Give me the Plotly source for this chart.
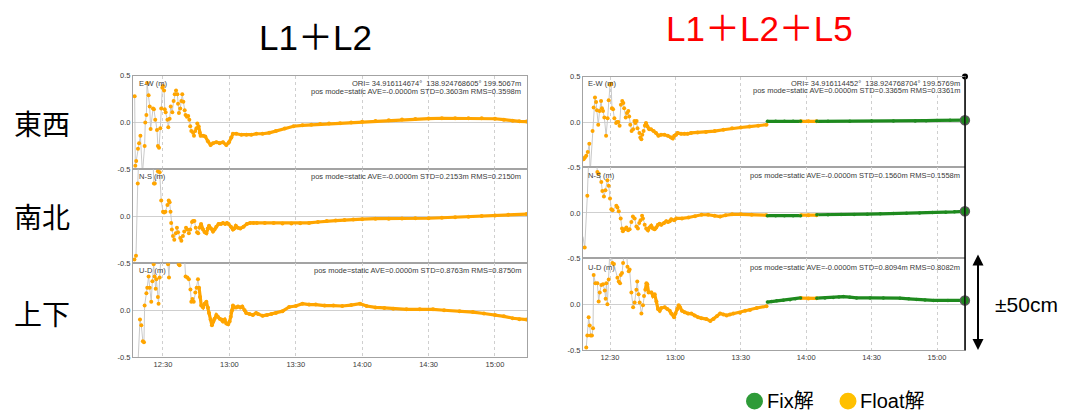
import numpy as np
import pandas as pd
import plotly.graph_objects as go

# ---------------- data (minutes after 12:00, metres) ----------------
LEFT_EW = [(17.2,.28),(17.5,-.46),(17.9,-.41),(18.7,-.28),(19.2,-.22),(19.8,-.14),(20.7,-.55),(21.7,-.25),(22.0,.00),(22.5,.08),(22.8,.42),(23.5,.29),(24.0,.17),(24.4,-.07),(25.5,.15),(25.9,.14),(26.5,.03),(27.3,-.08),(27.7,-.25),(28.2,-.27),(28.8,-.06),(29.2,.15),(29.7,.37),(30.0,.39),(30.5,.34),(30.8,.14),(31.2,.11),(32.0,.03),(32.4,-.05),(33.0,.04),(33.5,.17),(34.2,.11),(34.8,.23),(35.3,.30),(35.9,.34),(36.5,.30),(36.8,.20),(37.2,.10),(37.8,.15),(38.3,.23),(38.7,.30),(39.2,.22),(39.8,.13),(40.2,.08),(40.8,.06),(41.4,.07),(41.9,.03),(42.3,-.04),(42.8,-.09),(43.6,-.11),(44.0,-.14),(44.6,-.09),(45.1,-.06),(45.5,-.01),(46.1,-.04),(46.6,-.11),(47.0,-.14),(48.1,-.14),(49.1,-.15),(50.3,-.20),(51.5,-.24),(52.6,-.22),(54.1,-.21),(55.6,-.22),(57.1,-.21),(58.6,-.24),(59.8,-.21),(60.9,-.16),(61.6,-.12),(63.1,-.12),(65.4,-.13),(67.7,-.13),(69.9,-.13),(72.2,-.12),(75,-.12),(78,-.11),(81,-.09),(85,-.065),(89,-.04),(93,-.03),(97,-.025),(101,-.015),(105,-.01),(110,-.007),(115,.0),(120,.007),(126,.017),(132,.025),(138,.032),(144,.038),(150,.042),(156,.045),(162,.045),(168,.045),(174,.045),(180,.04),(184,.03),(188,.018),(191,.012),(194.3,.01)]
LEFT_NS = [(17.1,-.46),(17.8,-.42),(18.6,.35),(19.0,.62),(25.4,.62),(25.9,.35),(26.3,.35),(27.7,.48),(28.5,.47),(29.2,.17),(30.0,.05),(30.5,.04),(31.1,.05),(32.0,.12),(32.6,.17),(33.0,.15),(33.4,.05),(33.7,-.07),(34.0,-.14),(34.5,-.21),(35.1,-.25),(35.8,-.18),(36.3,-.12),(36.8,-.17),(37.8,-.23),(38.3,-.26),(39.0,-.21),(39.6,-.16),(40.4,-.12),(41.0,-.14),(41.7,-.18),(42.3,-.14),(43.1,-.06),(43.6,-.05),(44.2,-.05),(44.8,-.12),(45.4,-.17),(45.9,-.18),(46.5,-.12),(47.2,-.08),(48.1,-.14),(48.9,-.17),(49.6,-.18),(50.2,-.13),(50.8,-.10),(51.7,-.13),(52.6,-.16),(53.3,-.14),(54.1,-.11),(55.1,-.08),(56.2,-.08),(57.1,-.07),(58.1,-.08),(58.9,-.07),(59.6,-.08),(60.7,-.11),(61.6,-.14),(62.2,-.13),(62.9,-.10),(63.8,-.12),(64.9,-.13),(66.4,-.11),(67.9,-.08),(69.4,-.07),(70.9,-.07),(72.4,-.07),(76,-.07),(80,-.07),(84,-.075),(88,-.076),(92,-.073),(96,-.07),(100,-.06),(104,-.05),(108,-.045),(112,-.04),(116,-.033),(120,-.03),(126,-.025),(132,-.025),(138,-.022),(144,-.02),(150,-.02),(156,-.015),(162,-.01),(168,-.004),(174,.003),(180,.01),(186,.016),(194.3,.024)]
LEFT_UD = [(18.8,-.52),(19.6,-.10),(20.2,-.16),(20.9,-.33),(21.4,-.34),(21.7,.05),(22.5,.18),(22.9,.24),(23.5,.36),(24.0,.24),(24.7,.09),(25.2,.31),(25.8,.49),(26.2,.36),(26.7,.23),(27.0,.33),(27.7,.14),(28.0,.07),(28.5,.35),(29.2,.62),(31.8,.62),(32.3,.49),(32.7,.35),(33.2,.62),(36.6,.62),(37.1,.49),(37.5,.48),(38.2,.62),(39.6,.62),(40.2,.36),(41.0,.35),(41.7,.33),(42.4,.22),(42.8,.09),(43.3,.12),(43.9,.09),(44.6,.19),(45.2,.24),(45.8,.33),(46.3,.24),(46.7,.14),(47.3,.05),(48.1,.03),(48.8,.07),(49.6,.09),(50.3,.03),(50.8,-.03),(51.5,-.10),(52.1,-.16),(52.7,-.12),(53.3,-.09),(54.1,-.05),(54.8,-.07),(55.6,-.09),(56.4,-.10),(57.1,-.12),(57.9,-.10),(58.6,-.14),(59.4,-.15),(60.1,-.12),(60.6,-.07),(61.2,.00),(61.6,.05),(62.4,.03),(63.1,.03),(63.9,.04),(64.9,.03),(65.8,.04),(66.9,.00),(67.6,-.03),(69.1,-.04),(70.6,-.05),(72.1,-.03),(72.9,-.04),(75,-.06),(77,-.05),(79,-.04),(81,-.03),(84,-.01),(87,.035),(90,.045),(93,.07),(96,.06),(99,.06),(103,.05),(107,.05),(111,.045),(115,.055),(119,.07),(122,.045),(126,.03),(130,.025),(134,.017),(140,.01),(146,.01),(152,.01),(157,.0),(164,-.01),(170,-.02),(175,-.035),(180,-.05),(184,-.065),(188,-.085),(191,-.095),(194.3,-.10)]

RIGHT_EW = [(17.9,-.41),(18.5,-.39),(19.1,-.37),(19.8,-.33),(20.5,-.24),(20.9,-.56),(22.0,-.10),(22.5,.16),(23.1,.27),(23.6,.22),(24.0,.13),(24.6,-.03),(25.2,.12),(25.9,.23),(26.3,.15),(26.8,.12),(27.4,.05),(28.2,-.15),(28.9,.04),(29.4,.24),(30.0,.41),(30.5,.42),(30.9,.15),(31.4,.14),(32.0,.04),(32.8,-.01),(33.2,.00),(33.8,.00),(34.4,-.04),(35.0,.19),(35.6,.23),(36.1,.21),(36.5,.15),(37.2,.05),(37.8,.10),(38.4,.12),(38.8,.06),(39.3,-.03),(39.9,-.10),(40.6,-.08),(41.2,.01),(41.6,-.01),(42.2,.01),(42.6,-.07),(43.5,-.12),(43.9,-.17),(44.4,-.19),(44.8,-.14),(45.4,-.10),(46.0,-.04),(46.5,-.01),(47.2,-.05),(48.0,-.08),(48.8,-.08),(50.0,-.10),(51.1,-.12),(52.2,-.15),(53.4,-.14),(54.9,-.14),(56.5,-.15),(58.0,-.17),(58.8,-.18),(59.5,-.15),(60.3,-.14),(61.0,-.12),(62.6,-.13),(64.1,-.13),(65.6,-.13),(67.2,-.12),(70.2,-.115),(74.0,-.11),(78,-.10),(82,-.085),(86,-.07),(90,-.06),(94,-.05),(98,-.04),(101.8,-.03),(102.2,.008),(106,.008),(110,.008),(114,.008),(117.4,.008),(117.6,.008),(121,.008),(124.7,.008),(124.9,.008),(130,.008),(140,.009),(150,.01),(160,.01),(170,.012),(175,.015),(180,.017),(186,.018),(192.8,.02)]
RIGHT_NS = [(17.6,-.26),(18.4,-.38),(19.6,.19),(20.3,.65),(23.6,.65),(24.2,.45),(24.8,.43),(26.0,.34),(26.5,.24),(27.2,.18),(27.9,.25),(28.8,.36),(29.4,.30),(30.0,.16),(30.6,.04),(31.2,.03),(32.9,.08),(33.4,.06),(34.0,.02),(34.9,-.06),(35.5,-.17),(35.9,-.20),(36.7,-.18),(37.5,-.16),(38.3,-.19),(39.0,-.18),(39.8,-.10),(40.5,-.04),(41.3,-.06),(42.1,-.15),(42.8,-.17),(43.4,-.11),(44.0,-.08),(44.7,-.03),(45.1,-.06),(45.9,-.13),(46.6,-.17),(47.4,-.19),(48.1,-.16),(48.9,-.14),(49.7,-.17),(50.5,-.18),(51.2,-.16),(52.0,-.13),(52.8,-.12),(53.5,-.13),(54.8,-.11),(55.8,-.09),(56.6,-.10),(57.4,-.09),(58.1,-.07),(59.4,-.08),(60.4,-.06),(63,-.06),(66,-.05),(69,-.035),(72,-.02),(75,-.02),(78,-.03),(80.5,-.04),(83,-.025),(86,-.015),(90,-.015),(95,-.02),(101.8,-.025),(102.2,-.03),(106,-.03),(110,-.03),(114,-.03),(117.4,-.03),(117.6,-.025),(121,-.025),(124.7,-.025),(124.9,-.02),(130,-.02),(136,-.018),(142,-.017),(148,-.014),(154,-.01),(160,-.007),(166,-.004),(172,.0),(178,.004),(184,.008),(188,.012),(192.8,.018)]
RIGHT_UD = [(19.1,-.47),(19.6,-.34),(20.2,-.14),(20.7,-.23),(21.1,-.34),(21.7,-.34),(22.2,-.26),(22.5,.32),(23.3,.23),(24.2,.23),(24.8,.03),(25.3,.13),(26.0,.21),(26.8,.22),(27.6,.15),(28.0,.06),(28.3,.23),(28.8,.00),(29.4,.27),(30.0,.62),(31.1,.45),(31.8,.44),(33.4,.29),(34.0,.25),(34.6,.23),(34.9,.32),(35.5,.34),(36.0,.45),(36.7,.62),(37.5,.62),(38.0,.41),(38.6,.36),(39.0,.38),(39.8,.13),(40.6,-.03),(41.3,.02),(42.1,.16),(42.5,.25),(43.1,.11),(43.6,.02),(44.4,-.10),(45.1,-.01),(45.6,.09),(46.2,.16),(46.7,.23),(47.1,.22),(47.7,.13),(49.0,.13),(49.7,.09),(50.5,.11),(51.3,.03),(52.0,-.05),(52.8,-.07),(53.5,-.04),(55.1,-.03),(56.3,-.05),(57.4,-.07),(58.1,-.10),(59.4,-.14),(60.0,-.10),(60.9,-.05),(61.5,-.01),(62.1,-.03),(63.0,-.07),(64.3,-.085),(65.8,-.10),(67.3,-.10),(68.8,-.12),(70.4,-.14),(71.9,-.15),(74.2,-.16),(76.0,-.18),(77.5,-.16),(79,-.13),(80.5,-.10),(82,-.11),(83.5,-.12),(85,-.11),(86.6,-.10),(89.6,-.09),(92,-.07),(94.2,-.06),(97.3,-.04),(101.8,-.02),(102.2,.025),(104,.03),(106.5,.04),(109.5,.045),(112.6,.05),(115,.06),(117.4,.07),(117.6,.068),(121,.065),(124.7,.066),(124.9,.067),(128.6,.07),(132.4,.075),(135,.08),(137,.085),(140,.078),(143.1,.07),(149.3,.07),(155.4,.07),(163,.067),(167,.06),(170.7,.053),(174.5,.047),(178.3,.043),(185,.043),(192.8,.043)]

RIGHT_FIX_PERIODS = [(102.0, 117.5), (124.8, 193.0)]   # Fix solution intervals

TITLES = ["L1＋L2", "L1＋L2＋L5"]
ROW_LABELS = ["東西", "南北", "上下"]
COMPONENTS = ["E-W (m)", "N-S (m)", "U-D (m)"]
X_TICKS = ["12:30", "13:00", "13:30", "14:00", "14:30", "15:00"]
Y_TICKS = [0.5, 0.0, -0.5]
LEFT_ORI = "ORI= 34.916114674°&nbsp; 138.924768605° 199.5067m"
RIGHT_ORI = "ORI= 34.916114452°&nbsp; 138.924768704° 199.5769m"
LEFT_STATS = ["pos mode=static AVE=-0.0000m STD=0.3603m RMS=0.3598m",
              "pos mode=static AVE=-0.0000m STD=0.2153m RMS=0.2150m",
              "pos mode=static AVE=0.0000m STD=0.8763m RMS=0.8750m"]
RIGHT_STATS = ["pos mode=static AVE=0.0000m STD=0.3365m RMS=0.3361m",
               "pos mode=static AVE=-0.0000m STD=0.1560m RMS=0.1558m",
               "pos mode=static AVE=-0.0000m STD=0.8094m RMS=0.8082m"]
LEGEND_LABELS = ["Fix解", "Float解"]
RANGE_LABEL = "±50cm"

# ---------------- styling / geometry ----------------
W, H = 1069, 414          # browser window
OFF = 8                   # default page body margin
FW, FH = W - OFF, H - OFF # figure size so the page fits the window exactly
ORANGE = "#FFA500"
GREEN = "#1E8A1E"
LEG_GREEN = "#2E9B38"
LEG_ORANGE = "#FFC000"
CONNECT = "#c9c9c9"
FRAME = "#a3a3a3"
GRID = "#cfcfcf"
TXT = "#3a3a3a"
SMALL = dict(family="Liberation Sans, Arial, sans-serif", size=7.5, color=TXT)
BIG = "Liberation Sans, Noto Sans CJK JP, sans-serif"
DENSE_FROM = 46.0

GEOM = [
    dict(x0=133, x1=527, rows=[(73, 169), (169, 265), (265, 361)], t0=16.45, t1=194.46,
         txt_y=[(80.7, 89.3), (176.7,), (272.7,)], lab_x=137, txt_x=522.5),
    dict(x0=583, x1=965, rows=[(74, 167), (167, 260), (260, 354)], t0=17.61, t1=192.84,
         txt_y=[(80.7, 88.6), (175.2,), (269.5,)], lab_x=586, txt_x=961.5),
]
SERIES = [[LEFT_EW, LEFT_NS, LEFT_UD], [RIGHT_EW, RIGHT_NS, RIGHT_UD]]
FIXP = [[], RIGHT_FIX_PERIODS]
ORIS = [LEFT_ORI, RIGHT_ORI]
STATS = [LEFT_STATS, RIGHT_STATS]

BASE = pd.Timestamp("2021-01-01 12:00:00")


def tt(m):
    return BASE + pd.to_timedelta(np.asarray(m, dtype=float), unit="m")


def px(x):  # window pixel -> paper fraction
    return (x - OFF) / FW


def py(y):
    return 1 - (y - OFF) / FH


def hm(s):
    h, m = s.split(":")
    return (int(h) - 12) * 60 + int(m)


fig = go.Figure()
layout = {}
annotations = []
shapes = []

k = 0
for p, g in enumerate(GEOM):
    for r, (ya0, ya1) in enumerate(g["rows"]):
        k += 1
        sfx = "" if k == 1 else str(k)
        xa, ya = "x" + sfx, "y" + sfx
        yt = Y_TICKS if r == 0 else Y_TICKS[1:]
        layout["xaxis" + sfx] = dict(
            domain=[px(g["x0"]), px(g["x1"])], anchor=ya, type="date",
            range=[tt(g["t0"]), tt(g["t1"])],
            tickvals=list(tt([hm(s) for s in X_TICKS])), ticktext=X_TICKS,
            showticklabels=(r == 2), ticks="", tickfont=SMALL,
            showgrid=True, gridcolor=GRID, griddash="dot", gridwidth=1,
            showline=True, mirror=True, linecolor=FRAME, linewidth=1, zeroline=False)
        layout["yaxis" + sfx] = dict(
            domain=[py(ya1), py(ya0)], anchor=xa, range=[-0.5, 0.5],
            tickvals=yt, ticktext=[f"{v:.1f}" for v in yt], ticks="", tickfont=SMALL,
            showgrid=True, gridcolor=GRID, gridwidth=1,
            showline=True, mirror=True, linecolor=FRAME, linewidth=1, zeroline=False)

        pts = SERIES[p][r]
        t = np.array([a for a, _ in pts])
        v = np.array([b for _, b in pts])
        fix = np.zeros(len(t), bool)
        for a, b in FIXP[p]:
            fix |= (t >= a) & (t <= b)
        status = np.where(fix, 2, np.where(t >= DENSE_FROM, 1, 0))

        # thin connecting line
        fig.add_trace(go.Scatter(x=tt(t), y=v, mode="lines", xaxis=xa, yaxis=ya,
                                 line=dict(color=CONNECT, width=1), hoverinfo="skip"))
        # dense runs drawn as thick lines
        i = 0
        while i < len(t):
            j = i
            while j + 1 < len(t) and status[j + 1] == status[i]:
                j += 1
            if status[i] > 0:
                col = GREEN if status[i] == 2 else ORANGE
                fig.add_trace(go.Scatter(x=tt(t[i:j + 1]), y=v[i:j + 1], mode="lines",
                                         xaxis=xa, yaxis=ya, hoverinfo="skip",
                                         line=dict(color=col, width=3.2)))
            i = j + 1
        # point markers
        fl = ~fix
        fig.add_trace(go.Scatter(x=tt(t[fl]), y=v[fl], mode="markers", xaxis=xa, yaxis=ya,
                                 marker=dict(color=ORANGE, size=4), hoverinfo="skip"))
        if fix.any():
            fig.add_trace(go.Scatter(x=tt(t[fix]), y=v[fix], mode="markers", xaxis=xa, yaxis=ya,
                                     marker=dict(color=GREEN, size=3.5), hoverinfo="skip"))
            # cursor ring at last epoch
            fig.add_trace(go.Scatter(x=tt(t[-1:]), y=v[-1:], mode="markers", xaxis=xa, yaxis=ya,
                                     cliponaxis=False, hoverinfo="skip",
                                     marker=dict(color=GREEN, size=9,
                                                 line=dict(color="#5a5a5a", width=1.5))))
            if r == 0:
                fig.add_trace(go.Scatter(x=tt([g["t1"]]), y=[Y_TICKS[0]], mode="markers",
                                         xaxis=xa, yaxis=ya, cliponaxis=False, hoverinfo="skip",
                                         marker=dict(color="black", size=6)))

        # texts inside plot
        annotations.append(dict(x=px(g["lab_x"]), y=py(g["txt_y"][r][0]), xref="paper", yref="paper",
                                text=COMPONENTS[r], showarrow=False, xanchor="left", yanchor="middle",
                                font=SMALL))
        lines = [ORIS[p], STATS[p][0]] if r == 0 else [STATS[p][r]]
        for txt, yy in zip(lines, g["txt_y"][r]):
            annotations.append(dict(x=px(g["txt_x"]), y=py(yy), xref="paper", yref="paper",
                                    text=txt, showarrow=False, xanchor="right", yanchor="middle",
                                    font=SMALL))

# cursor line on right panel
shapes.append(dict(type="line", xref="paper", yref="paper", x0=px(965), x1=px(965),
                   y0=py(74), y1=py(354), line=dict(color="black", width=1.5), layer="above"))

# titles
annotations.append(dict(x=px(315), y=py(34), xref="paper", yref="paper", text=TITLES[0],
                        showarrow=False, xanchor="center", yanchor="middle",
                        font=dict(family=BIG, size=35, color="black")))
annotations.append(dict(x=px(759), y=py(25), xref="paper", yref="paper", text=TITLES[1],
                        showarrow=False, xanchor="center", yanchor="middle",
                        font=dict(family=BIG, size=35, color="#FF0000")))
# row labels
for lab, yy in zip(ROW_LABELS, [122, 217, 316]):
    annotations.append(dict(x=px(42), y=py(yy), xref="paper", yref="paper", text=lab,
                            showarrow=False, xanchor="center", yanchor="middle",
                            font=dict(family="Noto Sans CJK JP, sans-serif", size=28, color="black")))
# ±50cm arrow
annotations.append(dict(x=px(978), y=py(256), xref="paper", yref="paper", text="",
                        showarrow=True, ax=0, ay=97, arrowside="end+start", arrowhead=2,
                        startarrowhead=2, arrowsize=1.1, startarrowsize=1.1, arrowwidth=2,
                        arrowcolor="black"))
annotations.append(dict(x=px(993), y=py(307), xref="paper", yref="paper", text=RANGE_LABEL,
                        showarrow=False, xanchor="left", yanchor="middle",
                        font=dict(family=BIG, size=21, color="black")))
# legend
for lab, cx, tx, col in zip(LEGEND_LABELS, [754.5, 848], [765, 858], [LEG_GREEN, LEG_ORANGE]):
    shapes.append(dict(type="circle", xref="paper", yref="paper", x0=px(cx - 8.5), x1=px(cx + 8.5),
                       y0=py(406 + 8.5), y1=py(406 - 8.5), fillcolor=col, line=dict(width=0)))
    annotations.append(dict(x=px(tx), y=py(406), xref="paper", yref="paper", text=lab,
                            showarrow=False, xanchor="left", yanchor="middle",
                            font=dict(family=BIG, size=20, color="black")))

fig.update_layout(
    width=FW, height=FH, margin=dict(l=0, r=0, t=0, b=0),
    paper_bgcolor="white", plot_bgcolor="white", showlegend=False,
    font=dict(family="Liberation Sans, sans-serif"),
    annotations=annotations, shapes=shapes, **layout)

fig.write_html("out.html")
